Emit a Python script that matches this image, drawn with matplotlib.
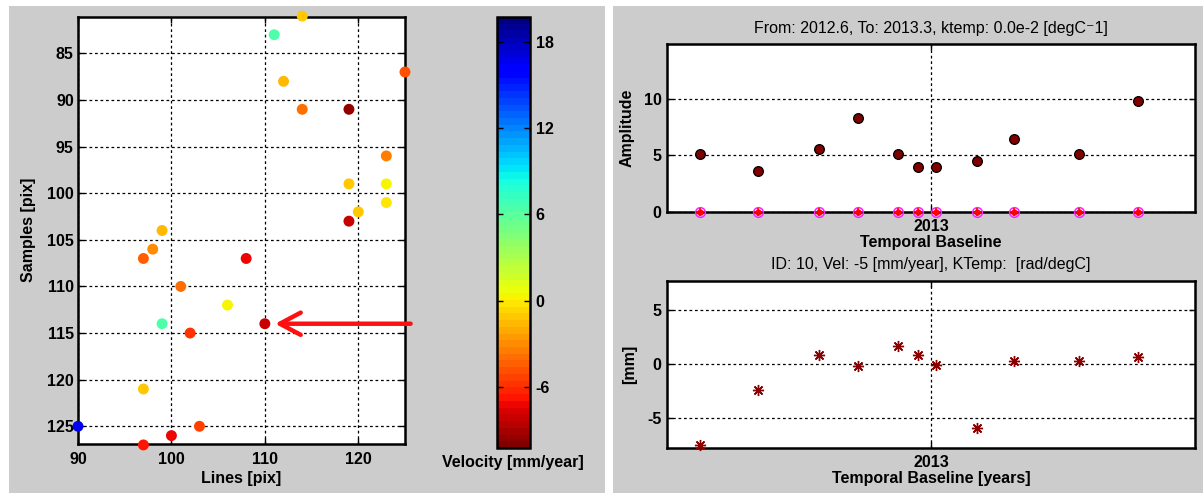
import numpy as np
import matplotlib
matplotlib.use("Agg")
import matplotlib.pyplot as plt
from matplotlib.patches import Rectangle

plt.rcParams['font.family'] = ['Liberation Sans', 'DejaVu Sans']
plt.rcParams['axes.unicode_minus'] = False

# ---------------- data ----------------
# Left map: point positions (lines, samples) and velocity [mm/year]
lines = [114, 111, 125, 112, 114, 119, 123, 119, 123, 123, 120, 119, 99,
         98, 97, 108, 101, 106, 99, 110, 102, 97, 90, 103, 100, 97]
samples = [81, 83, 87, 88, 91, 91, 96, 99, 99, 101, 102, 103, 104,
           106, 107, 107, 110, 112, 114, 114, 115, 121, 125, 125, 126, 127]
velocity = [-1.0, 6.5, -5.0, -1.8, -4.0, -9.5, -3.5, -1.3, 0.3, -0.3, -1.3, -8.0, -1.8,
            -2.8, -4.6, -7.0, -3.7, 0.5, 6.5, -8.2, -5.6, -1.3, 16.5, -5.2, -7.2, -6.8]
vel_range = (-10.26, 19.74)
cbar_ticks = [-6, 0, 6, 12, 18]
selected_point = (110, 114)

# Right: acquisition dates (decimal years)
dates = [2012.649, 2012.738, 2012.830, 2012.889, 2012.950, 2012.980,
         2013.008, 2013.069, 2013.126, 2013.224, 2013.313]
amplitude = [5.09, 3.61, 5.59, 8.34, 5.09, 3.93, 3.93, 4.53, 6.45, 5.15, 9.85]
amp_zero = [0] * len(dates)
displacement = [-7.48, -2.34, 0.83, -0.15, 1.72, 0.83, -0.06, -5.85, 0.31, 0.31, 0.65]

W, H = 1203, 493
fig = plt.figure(figsize=(W / 100, H / 100), dpi=100, facecolor='white')

gray = '#cccccc'
fig.patches.append(Rectangle((9 / W, 0), (605 - 9) / W, (H - 6) / H, transform=fig.transFigure,
                             facecolor=gray, edgecolor='none', zorder=-10))
fig.patches.append(Rectangle((613 / W, 0), (W - 613) / W, (H - 6) / H, transform=fig.transFigure,
                             facecolor=gray, edgecolor='none', zorder=-10))


def box(x0, y0, x1, y1):
    return [x0 / W, 1 - y1 / H, (x1 - x0) / W, (y1 - y0) / H]


FS = 11.5
grid_kw = dict(color='black', linestyle=(0, (2.2, 2.2)), linewidth=0.9)


def style_axes(ax):
    for s in ax.spines.values():
        s.set_linewidth(1.8)
        s.set_color('black')
    ax.tick_params(direction='in', top=True, right=True, length=4, width=1,
                   labelsize=FS)


def bold_ticks(ax):
    for lab in ax.get_xticklabels() + ax.get_yticklabels():
        lab.set_fontweight('bold')


# ---------------- left scatter ----------------
ax1 = fig.add_axes(box(78, 17, 405, 444))
cmap = plt.get_cmap('jet_r', 64)
sc = ax1.scatter(lines, samples, c=velocity, cmap=cmap, vmin=vel_range[0], vmax=vel_range[1],
                 s=62, edgecolors='none', clip_on=False, zorder=3)
ax1.set_xlim(90, 125)
ax1.set_ylim(126.9, 81.1)
ax1.set_xticks([90, 100, 110, 120])
ax1.set_yticks([85, 90, 95, 100, 105, 110, 115, 120, 125])
ax1.grid(True, **grid_kw)
style_axes(ax1)
ax1.tick_params(axis='x', pad=6)
ax1.tick_params(axis='y', pad=3)
bold_ticks(ax1)
ax1.annotate('', xy=(111.1, selected_point[1]), xytext=(125.6, selected_point[1]),
             xycoords='data', textcoords='data', annotation_clip=False,
             arrowprops=dict(arrowstyle='->,head_length=1.5,head_width=0.8',
                             color='#ff1010', lw=3.2, shrinkA=0, shrinkB=0))
fig.text(28 / W, 1 - 230 / H, 'Samples [pix]', rotation=90, ha='center', va='center',
         fontsize=FS, fontweight='bold')
fig.text(241 / W, 1 - 479 / H, 'Lines [pix]', ha='center', va='center',
         fontsize=FS, fontweight='bold')

# colorbar
cax = fig.add_axes(box(497, 17, 530, 448))
cb = fig.colorbar(sc, cax=cax, ticks=cbar_ticks)
cb.outline.set_linewidth(1.8)
cax.tick_params(direction='in', left=True, right=True, length=4, width=1, labelsize=FS, pad=4)
bold_ticks(cax)
fig.text(513 / W, 1 - 462 / H, 'Velocity [mm/year]', ha='center', va='center',
         fontsize=FS, fontweight='bold')

# ---------------- top right: amplitude ----------------
ax2 = fig.add_axes(box(667.3, 44, 1195, 211.7))
ax2.plot(dates, amplitude, 'o', color='#800000', markeredgecolor='black', markeredgewidth=0.9,
         markersize=7, clip_on=False, zorder=3)
ax2.plot(dates, amp_zero, 'o', markerfacecolor='none', markeredgecolor='#ff22ff',
         markeredgewidth=1.1, markersize=7, clip_on=False, zorder=4)
ax2.plot(dates, amp_zero, 'o', color='red', markersize=3.5, clip_on=False, zorder=5)
ax2.plot(dates, amp_zero, '+', color='red', markersize=6, markeredgewidth=1.2, clip_on=False, zorder=5)
ax2.set_xlim(2012.6, 2013.4)
ax2.set_ylim(0, 14.9)
ax2.set_xticks([2013])
ax2.set_xticklabels(['2013'])
ax2.set_yticks([0, 5, 10])
ax2.grid(True, **grid_kw)
style_axes(ax2)
ax2.tick_params(axis='x', pad=5)
ax2.tick_params(axis='y', pad=4)
bold_ticks(ax2)
fig.text(931 / W, 1 - 29 / H, 'From: 2012.6, To: 2013.3, ktemp: 0.0e-2 [degC\u207b1]',
         ha='center', va='center', fontsize=FS)
fig.text(931 / W, 1 - 242 / H, 'Temporal Baseline', ha='center', va='center',
         fontsize=FS, fontweight='bold')
fig.text(627 / W, 1 - 128 / H, 'Amplitude', rotation=90, ha='center', va='center',
         fontsize=FS, fontweight='bold')

# ---------------- bottom right: displacement ----------------
ax3 = fig.add_axes(box(667.3, 280.7, 1195, 447.7))
ax3.plot(dates, displacement, linestyle='none', marker=(8, 2, 0), color='#8b0000',
         markersize=8, markeredgewidth=1.0, clip_on=False, zorder=3)
ax3.set_xlim(2012.6, 2013.4)
ax3.set_ylim(-7.7, 7.7)
ax3.set_xticks([2013])
ax3.set_xticklabels(['2013'])
ax3.set_yticks([-5, 0, 5])
ax3.grid(True, **grid_kw)
style_axes(ax3)
ax3.tick_params(axis='x', pad=5)
ax3.tick_params(axis='y', pad=4)
bold_ticks(ax3)
fig.text(931 / W, 1 - 265 / H, 'ID: 10, Vel: -5 [mm/year], KTemp:  [rad/degC]',
         ha='center', va='center', fontsize=FS)
fig.text(931 / W, 1 - 479 / H, 'Temporal Baseline [years]', ha='center', va='center',
         fontsize=FS, fontweight='bold')
fig.text(630 / W, 1 - 364 / H, '[mm]', rotation=90, ha='center', va='center',
         fontsize=FS, fontweight='bold')

fig.savefig('out.png', dpi=100, facecolor='white')
